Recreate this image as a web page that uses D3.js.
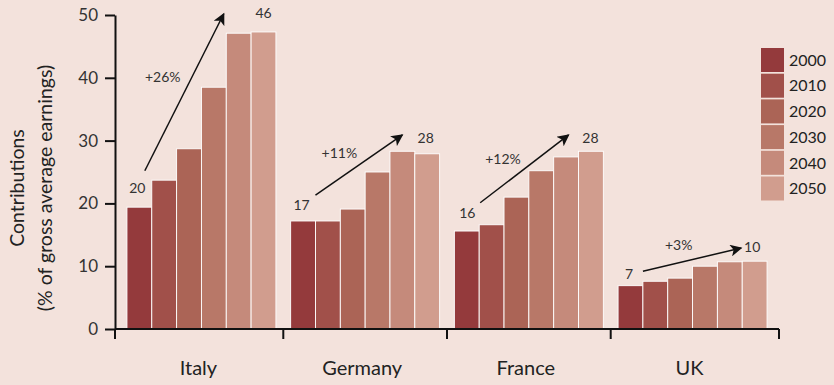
<!DOCTYPE html>
<html>
<head>
<meta charset="utf-8">
<script src="https://cdn.jsdelivr.net/npm/d3@7"></script>
<style>
  body { margin: 0; background: #f3e2dc; }
  svg { display: block; font-family: Lato, "Open Sans", sans-serif; }
</style>
</head>
<body>
<svg id="chart" width="834" height="385"></svg>
<script>
// data
let countries = ["Italy", "Germany", "France", "UK"];
let years = ["2000", "2010", "2020", "2030", "2040", "2050"];
let italy = [19.4, 23.7, 28.7, 38.5, 47.1, 47.3];
let germany = [17.2, 17.2, 19.1, 25.0, 28.3, 27.9];
let france = [15.6, 16.6, 21.0, 25.2, 27.4, 28.3];
let uk = [6.9, 7.6, 8.1, 10.0, 10.7, 10.8];
let yTicks = [0, 10, 20, 30, 40, 50];
let colors = ["#943a3c", "#a1504a", "#ab6456", "#b87868", "#c58a7b", "#d19d8e"];

// arrows: [from bar position, from value, to bar position, to value] in bar units inside a group
let arrows = [[0.72, 25.2, 3.9, 50.2], [1.0, 21.3, 4.5, 30.9], [1.04, 20.1, 4.6, 30.9], [1.0, 9.2, 4.96, 12.9]];
let startLabels = ["20", "17", "16", "7"];
let endLabels = ["46", "28", "28", "10"];
let changeLabels = ["+26%", "+11%", "+12%", "+3%"];
// label anchors [position, value]
let startPos = [[0.42, 21.7], [0.44, 18.9], [0.52, 17.7], [0.44, 8.0]];
let endPos = [[5.5, 49.5], [5.44, 29.6], [5.48, 29.6], [5.4, 12.3]];
let changePos = [[1.44, 39.4], [1.96, 27.2], [1.96, 26.3], [2.44, 12.6]];

let values = [italy, germany, france, uk];
let rows = countries.map((c, i) => ({ country: c, values: values[i] }));

let svg = d3.select("#chart");
let ink = "#222";

let x = d3.scaleBand().domain(countries).range([115, 779]).paddingInner(0.09).paddingOuter(0.073);
let xYear = d3.scaleBand().domain(years).range([0, x.bandwidth()]);
let y = d3.scaleLinear().domain([0, 50]).range([329, 15]);
let unit = xYear.step();

// bars
let groups = svg.append("g").selectAll("g")
	.data(rows)
	.join("g")
	.attr("transform", d => `translate(${x(d.country)},0)`);
groups.selectAll("rect")
	.data(d => d.values)
	.join("rect")
	.attr("x", (d, i) => xYear(years[i]))
	.attr("y", d => y(d))
	.attr("width", xYear.bandwidth())
	.attr("height", d => y(0) - y(d))
	.attr("fill", (d, i) => colors[i])
	.attr("stroke", "#fff")
	.attr("stroke-width", 0.9);

// y axis
let yAxis = svg.append("g")
	.attr("transform", "translate(115,0)")
	.call(d3.axisLeft(y).tickValues(yTicks).tickSize(10).tickSizeOuter(0).tickPadding(7));
yAxis.select(".domain").attr("stroke", "#111").attr("stroke-width", 2);
yAxis.selectAll(".tick line").attr("stroke", "#111").attr("stroke-width", 2);
yAxis.selectAll(".tick text").attr("font-size", 17).attr("fill", "#333").attr("font-family", "Lato");

// x axis
let gap = x.step() * x.paddingInner() / 2;
let bounds = [115].concat(countries.slice(1).map(c => x(c) - gap), [779]);
svg.append("line")
	.attr("x1", 115).attr("x2", 779)
	.attr("y1", y(0)).attr("y2", y(0))
	.attr("stroke", "#111").attr("stroke-width", 2);
svg.append("g").selectAll("line")
	.data(bounds)
	.join("line")
	.attr("x1", d => d).attr("x2", d => d)
	.attr("y1", y(0)).attr("y2", y(0) + 10)
	.attr("stroke", "#111").attr("stroke-width", 2);
svg.append("g").selectAll("text")
	.data(countries)
	.join("text")
	.attr("x", d => x(d) + x.bandwidth() / 2 - 3)
	.attr("y", 375)
	.attr("text-anchor", "middle")
	.attr("font-size", 20)
	.attr("fill", ink)
	.text(d => d);

// y title
let title = svg.append("text")
	.attr("transform", "translate(0,188) rotate(-90)")
	.attr("text-anchor", "middle")
	.attr("font-size", 19.5)
	.attr("fill", ink);
title.append("tspan").attr("x", 0).attr("y", 24).text("Contributions");
title.append("tspan").attr("x", 0).attr("y", 52).text("(% of gross average earnings)");

// arrows
svg.append("defs").append("marker")
	.attr("id", "head")
	.attr("viewBox", "0 0 10 10")
	.attr("refX", 9).attr("refY", 5)
	.attr("markerWidth", 13).attr("markerHeight", 12)
	.attr("markerUnits", "userSpaceOnUse")
	.attr("orient", "auto")
	.append("path")
	.attr("d", "M0,0 L10,5 L0,10 L2.5,5 Z")
	.attr("fill", "#111");

let notes = svg.append("g");
countries.forEach((c, i) => {
	let a = arrows[i];
	let x0 = x(c);
	notes.append("line")
		.attr("x1", x0 + a[0] * unit).attr("y1", y(a[1]))
		.attr("x2", x0 + a[2] * unit).attr("y2", y(a[3]))
		.attr("stroke", "#111").attr("stroke-width", 1.5)
		.attr("marker-end", "url(#head)");
	[[startPos[i], startLabels[i]], [endPos[i], endLabels[i]], [changePos[i], changeLabels[i]]].forEach(p => {
		notes.append("text")
			.attr("x", x0 + p[0][0] * unit)
			.attr("y", y(p[0][1]))
			.attr("text-anchor", "middle")
			.attr("font-size", 14)
			.attr("fill", "#333")
			.text(p[1]);
	});
});

// legend
let legend = svg.append("g").attr("transform", "translate(761,48)");
let item = legend.selectAll("g")
	.data(years)
	.join("g")
	.attr("transform", (d, i) => `translate(0,${i * 25.7})`);
item.append("rect")
	.attr("width", 23).attr("height", 24)
	.attr("fill", (d, i) => colors[i]);
item.append("text")
	.attr("x", 28).attr("y", 12)
	.attr("dy", "0.36em")
	.attr("font-size", 16)
	.attr("fill", ink)
	.text(d => d);
</script>
</body>
</html>
